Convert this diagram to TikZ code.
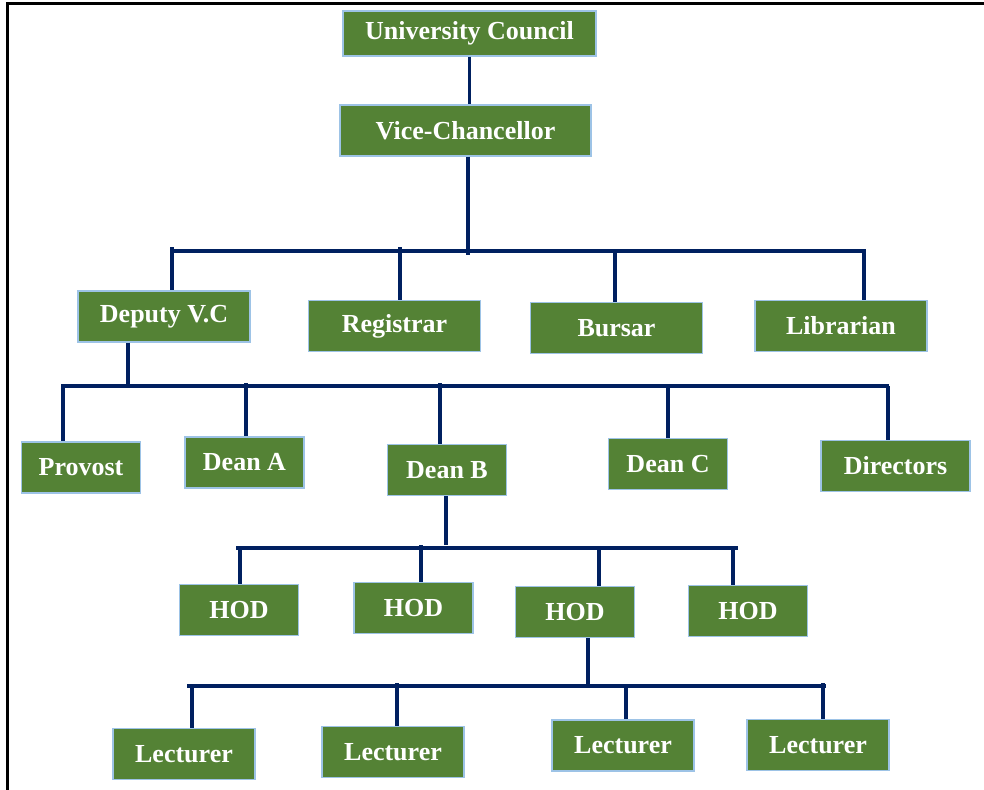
\documentclass[tikz,border=0pt]{standalone}
\usepackage{fontspec}
\setmainfont{Liberation Serif}
\usetikzlibrary{calc}
\definecolor{BoxGreen}{HTML}{548235}
\definecolor{BoxEdge}{HTML}{9DC3E6}
\definecolor{LinkNavy}{HTML}{002060}
\tikzset{
  orgbox/.style={draw=BoxEdge, line width=1.3pt, fill=BoxGreen, text=white,
    align=center, minimum height=51pt, inner sep=2pt,
    font=\fontsize{26}{30}\selectfont\bfseries},
  wbox/.style={orgbox, minimum width=172pt},
  nbox/.style={orgbox, minimum width=119pt},
  lbox/.style={orgbox, minimum width=142pt},
  link/.style={draw=LinkNavy, line width=3.2pt},
  bus/.style={draw=LinkNavy, line width=3.2pt},
}
\begin{document}
\begin{tikzpicture}[x=1pt, y=-1pt]
  \useasboundingbox (0,0) rectangle (984,789);
  \draw[line width=3pt, line cap=rect] (7,789) -- (7,4) -- (984,4);

  % top of the tree
  \node[orgbox, minimum width=253pt, minimum height=45pt] (uc) at (469.5,33.5) {University Council};
  \node[orgbox, minimum width=251pt] (vc) at (465.5,130.5) {Vice-Chancellor};

  % officers
  \node[wbox] (dvc) at (164,316.5) {Deputy V.C};
  \node[wbox] (reg) at (394.5,326) {Registrar};
  \node[wbox] (bur) at (616.5,328) {Bursar};
  \node[wbox] (lib) at (841,326) {Librarian};

  % faculties
  \node[nbox] (prov) at (81,467.5) {Provost};
  \node[nbox] (deana) at (244.5,462.5) {Dean A};
  \node[nbox] (deanb) at (447,470) {Dean B};
  \node[nbox] (deanc) at (668,464) {Dean C};
  \node[orgbox, minimum width=149pt] (dir) at (895.5,466) {Directors};

  % departments
  \node[nbox] (hod1) at (239,610) {HOD};
  \node[nbox] (hod2) at (413.5,608) {HOD};
  \node[nbox] (hod3) at (575,612) {HOD};
  \node[nbox] (hod4) at (748,611) {HOD};

  % staff
  \node[lbox] (lec1) at (184,754) {Lecturer};
  \node[lbox] (lec2) at (393,752) {Lecturer};
  \node[lbox] (lec3) at (623,745.5) {Lecturer};
  \node[lbox] (lec4) at (818,745) {Lecturer};

  % buses
  \coordinate (b1l) at (171,251); \coordinate (b1r) at (866,251);
  \coordinate (b2l) at (61,386);  \coordinate (b2r) at (889,386);
  \coordinate (b3l) at (236,548); \coordinate (b3r) at (738,548);
  \coordinate (b4l) at (187,686); \coordinate (b4r) at (826,686);
  \foreach \b in {b1,b2,b3,b4}
    \draw[bus] (\b l) -- (\b r);

  % parents down to their bus
  \draw[link] (uc.south) -- (uc.south |- vc.north);
  \coordinate (p1) at (468,255);
  \draw[link] (p1 |- vc.south) -- (p1);
  \coordinate (p2) at (128,386);
  \draw[link] (p2 |- dvc.south) -- (p2);
  \coordinate (p3) at (446,545);
  \draw[link] (p3 |- deanb.south) -- (p3);
  \coordinate (p4) at (588,686);
  \draw[link] (p4 |- hod3.south) -- (p4);

  % children up to their bus
  \foreach \n/\x/\y in {dvc/172/247, reg/400/247, bur/615/251, lib/864/251,
      prov/63/386, deana/246/383, deanb/440/383, deanc/668/386, dir/888/386,
      hod1/240/548, hod2/421/545, hod3/599/548, hod4/733/546,
      lec1/192/686, lec2/397/683, lec3/626/686, lec4/823/683} {
    \coordinate (j-\n) at (\x,\y);
    \draw[link] (j-\n) -- (j-\n |- \n.north);
  }
\end{tikzpicture}
\end{document}
